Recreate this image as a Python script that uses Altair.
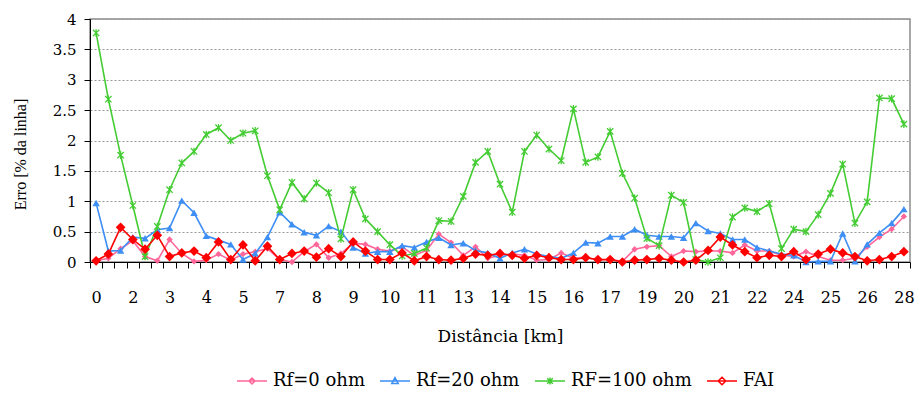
import altair as alt
import pandas as pd

series_names = ["Rf=0 ohm", "Rf=20 ohm", "RF=100 ohm", "FAI"]
series_colors = ["#FF6699", "#3D8EF5", "#44CC33", "#FF0000"]

tick_labels = ["0", "2", "3", "4", "5", "7", "8", "9", "10", "11", "13", "14",
               "15", "16", "17", "19", "20", "21", "22", "24", "25", "26", "28"]

rf0 = [0.02, 0.06, 0.22, 0.35, 0.09, 0.02, 0.37, 0.14, 0.01, 0.03, 0.13, 0.03,
       0.13, 0.17, 0.22, 0.04, 0.00, 0.17, 0.29, 0.07, 0.14, 0.31, 0.29, 0.21,
       0.18, 0.25, 0.11, 0.19, 0.46, 0.32, 0.11, 0.25, 0.06, 0.11, 0.13, 0.11,
       0.03, 0.04, 0.15, 0.06, 0.08, 0.03, 0.04, 0.01, 0.21, 0.25, 0.27, 0.09,
       0.18, 0.17, 0.18, 0.18, 0.15, 0.28, 0.18, 0.18, 0.11, 0.09, 0.17, 0.09,
       0.03, 0.03, 0.06, 0.25, 0.41, 0.54, 0.75]

rf20 = [0.97, 0.18, 0.19, 0.41, 0.39, 0.53, 0.56, 1.01, 0.81, 0.43, 0.36, 0.29,
        0.04, 0.14, 0.41, 0.82, 0.62, 0.49, 0.44, 0.59, 0.50, 0.24, 0.14, 0.17,
        0.17, 0.27, 0.24, 0.33, 0.40, 0.28, 0.31, 0.19, 0.15, 0.06, 0.15, 0.21,
        0.13, 0.09, 0.06, 0.15, 0.32, 0.31, 0.42, 0.42, 0.54, 0.44, 0.42, 0.42,
        0.40, 0.64, 0.51, 0.47, 0.37, 0.37, 0.24, 0.18, 0.13, 0.11, 0.00, 0.01,
        0.01, 0.47, 0.01, 0.29, 0.48, 0.64, 0.87]

rf100 = [3.77, 2.68, 1.76, 0.93, 0.09, 0.585, 1.19, 1.63, 1.82, 2.10, 2.21, 2.00,
         2.12, 2.16, 1.42, 0.86, 1.31, 1.04, 1.30, 1.14, 0.38, 1.19, 0.71, 0.50,
         0.285, 0.10, 0.14, 0.23, 0.68, 0.67, 1.08, 1.64, 1.82, 1.28, 0.82, 1.82,
         2.09, 1.86, 1.67, 2.52, 1.64, 1.73, 2.15, 1.46, 1.05, 0.39, 0.27, 1.10,
         0.98, 0.04, 0.00, 0.07, 0.74, 0.89, 0.83, 0.96, 0.22, 0.54, 0.50, 0.78,
         1.13, 1.61, 0.64, 0.99, 2.70, 2.69, 2.27]

fai = [0.02, 0.13, 0.57, 0.37, 0.21, 0.44, 0.09, 0.15, 0.18, 0.07, 0.33, 0.04,
       0.28, 0.02, 0.26, 0.04, 0.14, 0.18, 0.08, 0.22, 0.09, 0.33, 0.18, 0.04,
       0.04, 0.15, 0.02, 0.09, 0.04, 0.03, 0.06, 0.13, 0.11, 0.14, 0.11, 0.06,
       0.11, 0.07, 0.04, 0.04, 0.07, 0.04, 0.04, 0.00, 0.03, 0.04, 0.06, 0.03,
       0.00, 0.03, 0.19, 0.41, 0.28, 0.17, 0.07, 0.11, 0.09, 0.17, 0.04, 0.13,
       0.21, 0.15, 0.09, 0.02, 0.04, 0.09, 0.17]

all_values = [rf0, rf20, rf100, fai]
n = len(rf0)

rows = []
for name, vals in zip(series_names, all_values):
    for i, v in enumerate(vals):
        rows.append({"idx": i, "erro": v, "series": name})
df = pd.DataFrame(rows)

SERIF = "Liberation Serif"
WIDE = "DejaVu Serif"

label_array = "[" + ",".join("'" + s + "'" for s in tick_labels) + "]"

x_enc = alt.X(
    "idx:O",
    bandPosition=0.5,
    scale=alt.Scale(type="band", paddingInner=0, paddingOuter=0),
    axis=alt.Axis(
        title="Distância [km]",
        labelAngle=0,
        labelBaseline="top",
        labelExpr="(datum.value % 3 === 0) ? " + label_array + "[datum.value / 3] : ''",
        labelOverlap=False,
        grid=False,
        tickBand="extent",
        tickSize=6,
        tickColor="black",
        domainColor="black",
        labelPadding=21,
        titlePadding=23,
    ),
)
y_enc = alt.Y(
    "erro:Q",
    scale=alt.Scale(domain=[0, 4], nice=False),
    axis=alt.Axis(
        title="Erro [% da linha]",
        values=[0, 0.5, 1, 1.5, 2, 2.5, 3, 3.5, 4],
        format="~g",
        grid=True,
        gridColor="#999999",
        gridDash=[2, 2],
        tickSize=6,
        tickColor="black",
        domainColor="black",
        labelPadding=8,
        titlePadding=24,
        titleY=135,
    ),
)

asterisk = "M-1,-1L1,1M-1,1L1,-1M0,-1.2L0,1.2"
marker_specs = {
    "Rf=0 ohm": dict(shape="diamond", size=40, filled=True),
    "Rf=20 ohm": dict(shape="triangle-up", size=55, filled=True),
    "RF=100 ohm": dict(shape=asterisk, size=40, filled=False, strokeWidth=1.3),
    "FAI": dict(shape="diamond", size=95, filled=True),
}

layers = []
for name, color in zip(series_names, series_colors):
    base = alt.Chart(df).transform_filter(alt.datum.series == name)
    line = base.mark_line(color=color, strokeWidth=1.6).encode(x=x_enc, y=y_enc)
    spec = marker_specs[name]
    pts = base.mark_point(color=color, opacity=1, **spec).encode(x=x_enc, y=y_enc)
    layers += [line, pts]

legend_paths = [
    "M-1.5,0L1.5,0M0,-0.3L0.3,0L0,0.3L-0.3,0Z",
    "M-1.5,0L1.5,0M0,-0.34L0.32,0.24L-0.32,0.24Z",
    "M-1.5,0L1.5,0M-0.28,-0.28L0.28,0.28M-0.28,0.28L0.28,-0.28M0,-0.34L0,0.34",
    "M-1.5,0L1.5,0M0,-0.38L0.38,0L0,0.38L-0.38,0Z",
]

legend_layer = alt.Chart(df).transform_filter("false").mark_point(filled=False).encode(
    x=x_enc,
    y=y_enc,
    color=alt.Color("series:N", scale=alt.Scale(domain=series_names, range=series_colors),
                    legend=alt.Legend(title=None)),
    shape=alt.Shape("series:N", scale=alt.Scale(domain=series_names, range=legend_paths),
                    legend=alt.Legend(title=None)),
)

chart = alt.layer(*layers, legend_layer).properties(
    width=820, height=243,
    autosize=alt.AutoSizeParams(type="none"),
    padding={"left": 82, "top": 11, "right": 6, "bottom": 128},
).configure_view(
    stroke="#8c8c8c", strokeWidth=1.5
).configure_axis(
    labelColor="black", titleColor="black", titleFontWeight="normal",
).configure_axisX(
    labelFont=WIDE, labelFontSize=16, titleFont=WIDE, titleFontSize=17,
).configure_axisY(
    labelFont=WIDE, labelFontSize=15, titleFont=SERIF, titleFontSize=16,
).configure_legend(
    orient="none", direction="horizontal", legendX=151, legendY=351,
    labelFont=WIDE, labelFontSize=18, labelColor="black", labelLimit=300,
    symbolSize=400, symbolStrokeWidth=1.5, symbolOpacity=1,
    columnPadding=12, labelOffset=10,
)

chart.save("out.html", embed_options={"renderer": "svg", "actions": False})
